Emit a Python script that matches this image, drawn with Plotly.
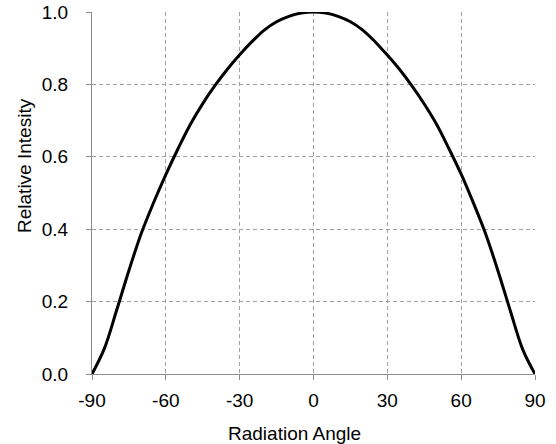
import plotly.graph_objects as go

angles = [-90, -85, -80, -75, -70, -65, -60, -55, -50, -45, -40, -35, -30, -25, -20, -15, -10, -5,
          0, 5, 10, 15, 20, 25, 30, 35, 40, 45, 50, 55, 60, 65, 70, 75, 80, 85, 90]
intensity = [0.0, 0.070, 0.176, 0.286, 0.388, 0.473, 0.551, 0.623, 0.690, 0.747, 0.797, 0.842,
             0.882, 0.918, 0.950, 0.973, 0.988, 0.997,
             1.0, 0.997, 0.988, 0.973, 0.950, 0.918, 0.881, 0.841, 0.796, 0.746, 0.690, 0.623,
             0.552, 0.472, 0.386, 0.284, 0.174, 0.068, 0.0]
x_ticks = [-90, -60, -30, 0, 30, 60, 90]
x_tick_labels = ["-90", "-60", "-30", "0", "30", "60", "90"]
y_ticks = [0.0, 0.2, 0.4, 0.6, 0.8, 1.0]
y_tick_labels = ["0.0", "0.2", "0.4", "0.6", "0.8", "1.0"]

FONT = "Liberation Sans, Arial, sans-serif"
FS = 19

fig = go.Figure()
fig.add_trace(go.Scatter(x=angles, y=intensity, mode="lines",
                         line=dict(color="black", width=3, shape="spline", smoothing=1.0),
                         showlegend=False, hoverinfo="skip"))

grid = dict(showgrid=True, gridcolor="#a0a0a0", griddash="4px,3px", gridwidth=1)

fig.update_layout(
    width=556, height=444,
    margin=dict(l=92, r=21, t=12, b=70, autoexpand=False),
    paper_bgcolor="white", plot_bgcolor="white",
    font=dict(family=FONT, size=FS, color="black"),
    xaxis=dict(range=[-90, 90], tickvals=x_ticks, ticktext=x_tick_labels, ticks="outside",
               ticklen=5, tickcolor="#8c8c8c", showline=True, linecolor="#8c8c8c", linewidth=1,
               zeroline=False, tickfont=dict(size=FS), ticklabelstandoff=4,
               ticklabeloverflow="allow", automargin=False, **grid),
    yaxis=dict(range=[0, 1.0], tickvals=y_ticks, ticktext=y_tick_labels, ticks="outside",
               ticklen=5, tickcolor="#8c8c8c", showline=True, linecolor="#8c8c8c", linewidth=1,
               zeroline=False, tickfont=dict(size=FS), ticklabelstandoff=14,
               ticklabeloverflow="allow", automargin=False, **grid),
    annotations=[
        dict(text="Relative Intesity", xref="paper", yref="paper", x=-0.151, y=0.575,
             textangle=-90, showarrow=False, font=dict(size=FS, family=FONT),
             xanchor="center", yanchor="middle"),
        dict(text="Radiation Angle", xref="paper", yref="paper", x=0.458, y=-0.165,
             showarrow=False, font=dict(size=FS, family=FONT),
             xanchor="center", yanchor="middle"),
    ],
)

fig.write_html("out.html", config={"displayModeBar": False},
               post_script="document.body.style.margin='0';")
